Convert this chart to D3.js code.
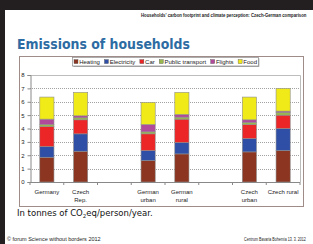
<!DOCTYPE html>
<html lang="en">
  <head>
    <meta charset="utf-8" />
    <title>Emissions of households</title>
    <script src="https://d3js.org/d3.v7.min.js"></script>
    <style>
      body { margin: 0; background: #231f20; }
      svg { display: block; }
    </style>
  </head>
  <body>
    <script type="text/javascript">
      // categories (blank slots are gaps between groups)
      const categories = ["Germany", "Czech Rep.", "", "German urban", "German rural", "", "Czech urban", "Czech rural"];
      const series = ["Heating", "Electricity", "Car", "Public transport", "Flights", "Food"];

      // values in t CO2eq/person/year, one array per series
      const heating     = [1.85, 2.3, null, 1.6, 2.1, null, 2.25, 2.35];
      const electricity = [0.8, 1.3, null, 0.75, 0.85, null, 1.0, 1.65];
      const car         = [1.5, 1.05, null, 1.25, 1.75, null, 1.05, 1.0];
      const publicTr    = [0.15, 0.15, null, 0.15, 0.15, null, 0.15, 0.2];
      const flights     = [0.4, 0.15, null, 0.55, 0.2, null, 0.2, 0.1];
      const food        = [1.65, 1.75, null, 1.65, 1.65, null, 1.7, 1.7];

      const yTicks = [0, 1, 2, 3, 4, 5, 6, 7, 8];

      const colors = ["#8c3520", "#2f4ea6", "#ec2527", "#98b84e", "#b24a9c", "#f0ea18"];

      const w = 313;
      const h = 244;

      // build rows for d3.stack
      const rows = categories.map((c, i) => ({
        cat: i,
        Heating: heating[i] || 0,
        Electricity: electricity[i] || 0,
        Car: car[i] || 0,
        "Public transport": publicTr[i] || 0,
        Flights: flights[i] || 0,
        Food: food[i] || 0,
        empty: heating[i] == null,
      }));
      const stacked = d3.stack().keys(series)(rows);

      let svg = d3.select("body").append("svg").attr("width", w).attr("height", h);

      // slide background
      svg.append("rect").attr("x", 5).attr("y", 10).attr("width", w - 5).attr("height", h - 10).attr("fill", "#ffffff");

      // squeeze a text horizontally into a given width (via transform)
      function fitText(x, y, width, size, bold, str) {
        const g = svg.append("g");
        const t = g.append("text")
          .attr("font-family", "Liberation Sans, sans-serif")
          .attr("font-size", size + "px").attr("font-weight", bold ? "bold" : "normal")
          .attr("fill", "#222").text(str);
        const nat = t.node().getComputedTextLength();
        g.attr("transform", `translate(${x},${y}) scale(${width / nat},1)`);
        return t;
      }

      // header line
      fitText(141, 17, 166, 5, true, "Households' carbon footprint and climate perception: Czech-German comparison");

      // title
      svg.append("text")
        .attr("x", 17).attr("y", 49)
        .attr("font-family", "DejaVu Sans, sans-serif")
        .attr("font-size", "14px").attr("font-weight", "bold")
        .attr("fill", "#2d6ba3")
        .attr("textLength", 173).attr("lengthAdjust", "spacingAndGlyphs")
        .text("Emissions of households");

      // chart box
      svg.append("rect").attr("x", 19.5).attr("y", 56.5).attr("width", 284).attr("height", 150)
        .attr("fill", "#fff").attr("stroke", "#9f8c88").attr("stroke-width", 1);

      const plotL = 30, plotR = 300, plotT = 75, plotB = 182;

      let xScale = d3.scaleBand().domain(d3.range(categories.length)).range([plotL, plotR]).paddingInner(0.58).paddingOuter(0.29);
      let yScale = d3.scaleLinear().domain([0, 8]).range([plotB, plotT]);

      // plot frame (top/right light)
      svg.append("path")
        .attr("d", `M${plotL},${plotT + 0.5}H${plotR + 0.5}V${plotB}`)
        .attr("fill", "none").attr("stroke", "#bdbdbd");

      // grid lines
      svg.append("g").selectAll("line").data(yTicks.filter((d) => d > 0 && d < 8)).enter().append("line")
        .attr("x1", plotL).attr("x2", plotR)
        .attr("y1", (d) => Math.round(yScale(d)) + 0.5).attr("y2", (d) => Math.round(yScale(d)) + 0.5)
        .attr("stroke", "#8a8a8a").attr("stroke-width", 0.8).attr("stroke-dasharray", "1,1");

      // bars
      svg.append("g").selectAll("g").data(stacked).enter().append("g")
        .attr("fill", (d, i) => colors[i])
        .selectAll("rect").data((d) => d.filter((p) => !p.data.empty)).enter().append("rect")
        .attr("x", (d) => xScale(d.data.cat))
        .attr("y", (d) => yScale(d[1]))
        .attr("width", xScale.bandwidth())
        .attr("height", (d) => yScale(d[0]) - yScale(d[1]))
        .attr("stroke", "#8e8e8e").attr("stroke-width", 0.6);

      // y axis
      let yAxis = d3.axisLeft(yScale).tickValues(yTicks).tickSize(3).tickPadding(3);
      const gy = svg.append("g").attr("transform", `translate(${plotL + 0.5},0)`).call(yAxis);
      gy.select(".domain").attr("stroke", "#888");
      gy.selectAll(".tick line").attr("stroke", "#888");
      gy.selectAll("text").attr("font-family", "Liberation Sans, sans-serif").attr("font-size", "6px").attr("fill", "#222");

      // x axis with ticks at category boundaries
      svg.append("line").attr("x1", plotL).attr("x2", plotR).attr("y1", plotB + 0.5).attr("y2", plotB + 0.5).attr("stroke", "#888");
      const step = xScale.step();
      svg.append("g").selectAll("line").data(d3.range(categories.length + 1)).enter().append("line")
        .attr("x1", (d) => plotL + d * step).attr("x2", (d) => plotL + d * step)
        .attr("y1", plotB).attr("y2", plotB + 3).attr("stroke", "#888");

      const xl = svg.append("g").selectAll("text").data(categories).enter().append("text")
        .attr("x", (d, i) => xScale(i) + xScale.bandwidth() / 2)
        .attr("y", 194)
        .attr("text-anchor", "middle")
        .attr("font-family", "Liberation Sans, sans-serif").attr("font-size", "6px").attr("fill", "#222");
      xl.each(function (d) {
        const parts = d === "Czech rural" ? [d] : d.split(" ");
        const t = d3.select(this);
        parts.forEach((p, k) => {
          t.append("tspan").attr("x", t.attr("x")).attr("dy", k === 0 ? 0 : 7.5).text(p);
        });
      });

      // legend - items spread to fill the box
      const lg = svg.append("g");
      const legL = 72.5, legR = 258.5;
      lg.append("rect").attr("x", legL + 0.8).attr("y", 58.3).attr("width", legR - legL).attr("height", 8.5).attr("fill", "#9a9a9a");
      lg.append("rect").attr("x", legL).attr("y", 57.5).attr("width", legR - legL).attr("height", 8.5).attr("fill", "#fff").attr("stroke", "#8a8a8a").attr("stroke-width", 0.7);
      const items = series.map((s, i) => {
        const sq = lg.append("rect").attr("y", 59.6).attr("width", 4).attr("height", 4)
          .attr("fill", colors[i]).attr("stroke", "#555").attr("stroke-width", 0.4);
        const t = lg.append("text").attr("y", 64)
          .attr("font-family", "Liberation Sans, sans-serif").attr("font-size", "6px").attr("fill", "#222")
          .text(s);
        return { sq, t, tw: t.node().getComputedTextLength() };
      });
      const inner = d3.sum(items, (d) => d.tw + 5.2);
      const gap = (legR - legL - 3 - inner) / (items.length - 1);
      let lx = legL + 1.5;
      items.forEach((d) => {
        d.sq.attr("x", lx);
        d.t.attr("x", lx + 5.2);
        lx += d.tw + 5.2 + gap;
      });

      // note under chart
      const note = svg.append("text").attr("x", 17).attr("y", 216)
        .attr("font-family", "DejaVu Sans, sans-serif").attr("font-size", "8.5px").attr("fill", "#111");
      note.append("tspan").text("In tonnes of CO");
      note.append("tspan").attr("font-size", "5.5px").attr("dy", 2).text("2");
      note.append("tspan").attr("dy", -2).text("eq/person/year.");

      // footer
      svg.append("text").attr("x", 7).attr("y", 240.5)
        .attr("font-family", "Liberation Sans, sans-serif").attr("font-size", "5.5px").attr("fill", "#222")
        .text("© forum Science without borders 2012");
      fitText(244, 240.5, 62, 5.5, false, "Centrum Bavaria Bohemia 13. 3. 2012");
    </script>
  </body>
</html>
